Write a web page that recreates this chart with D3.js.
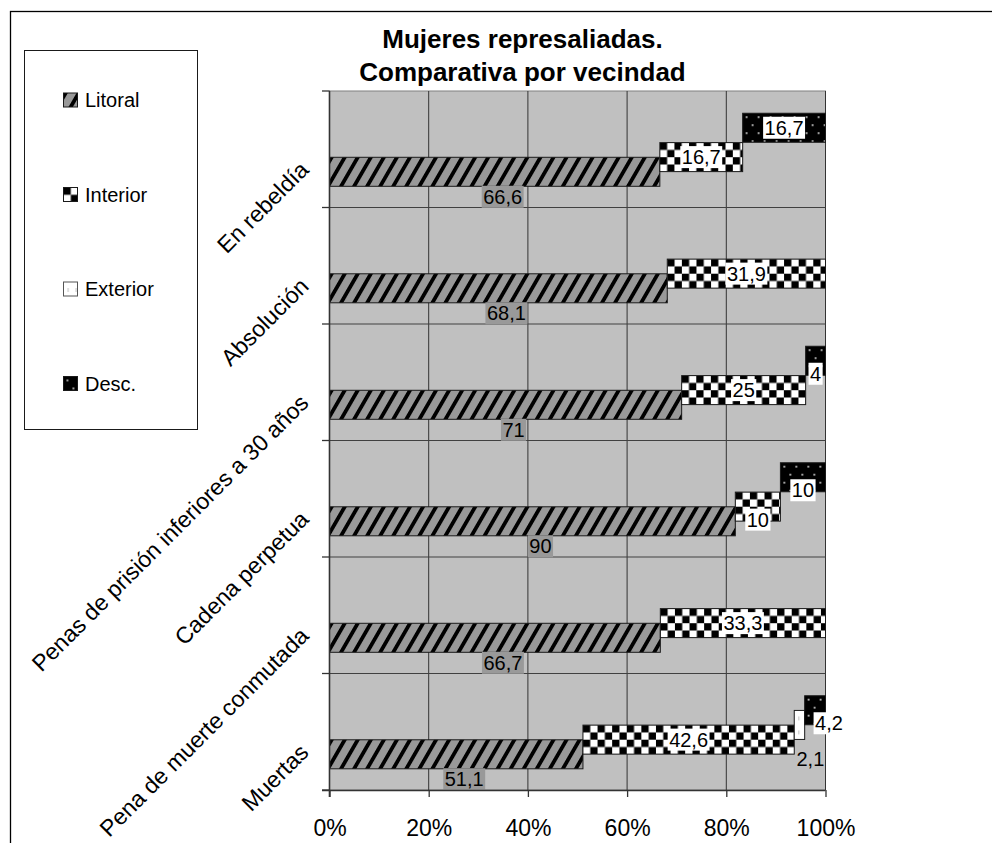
<!DOCTYPE html>
<html>
<head>
<meta charset="utf-8">
<script src="https://cdn.jsdelivr.net/npm/d3@7"></script>
<style>
  html, body { margin: 0; padding: 0; background: #ffffff; }
  svg { display: block; font-family: "Liberation Sans", Arial, sans-serif; }
</style>
</head>
<body>
<svg id="chart" width="992" height="843"></svg>
<script>
// ---- data ----
const categories = ["En rebeldía", "Absolución", "Penas de prisión inferiores a 30 años", "Cadena perpetua", "Pena de muerte conmutada", "Muertas"];
const seriesNames = ["Litoral", "Interior", "Exterior", "Desc."];
const litoral  = [66.6, 68.1, 71, 90, 66.7, 51.1];
const interior = [16.7, 31.9, 25, 10, 33.3, 42.6];
const exterior = [0, 0, 0, 0, 0, 2.1];
const desc     = [16.7, 0, 4, 10, 0, 4.2];
const xTicks   = [0, 0.2, 0.4, 0.6, 0.8, 1];
const titleLines = ["Mujeres represaliadas.", "Comparativa por vecindad"];

const seriesValues = [litoral, interior, exterior, desc];
const patternTypes = ["stripe", "checker", "exterior", "desc"];

// ---- layout ----
const svg = d3.select("#chart");
const defs = svg.append("defs");
const plot = { left: 329.5, right: 825.5, top: 91, bottom: 790 };

const x = d3.scaleLinear().domain([0, 1]).range([plot.left, plot.right]);
const y = d3.scaleBand().domain(categories).range([plot.top, plot.bottom]).paddingInner(0).paddingOuter(0);
const bw = y.bandwidth();
const barH = bw * 0.249;
const firstOff = bw * 0.569;
const step = bw * 0.126;

// pattern factory
let pid = 0;
function makePattern(type, x0, y0) {
  const id = "pat" + (pid++);
  let p;
  if (type === "stripe") {
    const per = 11.3;
    p = defs.append("pattern").attr("id", id).attr("patternUnits", "userSpaceOnUse")
      .attr("width", per).attr("height", 20)
      .attr("patternTransform", `translate(${x0},${y0}) rotate(30)`);
    p.append("rect").attr("width", per).attr("height", 20).attr("fill", "#999999");
    p.append("rect").attr("x", 0).attr("width", 3.8).attr("height", 20).attr("fill", "#000000");
  } else if (type === "checker") {
    const c = 7.3;
    p = defs.append("pattern").attr("id", id).attr("patternUnits", "userSpaceOnUse")
      .attr("width", 2 * c).attr("height", 2 * c)
      .attr("patternTransform", `translate(${x0},${y0})`);
    p.append("rect").attr("width", 2 * c).attr("height", 2 * c).attr("fill", "#ffffff");
    p.append("rect").attr("x", 0).attr("y", 0).attr("width", c).attr("height", c).attr("fill", "#000000");
    p.append("rect").attr("x", c).attr("y", c).attr("width", c).attr("height", c).attr("fill", "#000000");
  } else if (type === "exterior") {
    p = defs.append("pattern").attr("id", id).attr("patternUnits", "userSpaceOnUse")
      .attr("width", 8).attr("height", 14)
      .attr("patternTransform", `translate(${x0},${y0})`);
    p.append("rect").attr("width", 8).attr("height", 14).attr("fill", "#ffffff");
    p.append("rect").attr("x", 4).attr("y", 6).attr("width", 1.2).attr("height", 4).attr("fill", "#c8c8c8");
  } else {
    p = defs.append("pattern").attr("id", id).attr("patternUnits", "userSpaceOnUse")
      .attr("width", 12).attr("height", 16)
      .attr("patternTransform", `translate(${x0},${y0})`);
    p.append("rect").attr("width", 12).attr("height", 16).attr("fill", "#000000");
    p.append("rect").attr("x", 3).attr("y", 3).attr("width", 1.8).attr("height", 1.8).attr("fill", "#c0c0c0");
    p.append("rect").attr("x", 9).attr("y", 11).attr("width", 1.8).attr("height", 1.8).attr("fill", "#c0c0c0");
  }
  return "url(#" + id + ")";
}

// outer border
svg.append("rect").attr("x", 10.5).attr("y", 11.5).attr("width", 1100).attr("height", 1000)
  .attr("fill", "#ffffff").attr("stroke", "#000000").attr("stroke-width", 1.3);

// title
svg.append("g").selectAll("text").data(titleLines).join("text")
  .attr("x", 522.5).attr("y", (d, i) => 48 + i * 32.5)
  .attr("text-anchor", "middle").attr("font-weight", "bold").attr("font-size", 26)
  .attr("fill", "#000").text(d => d);

// plot background
svg.append("rect").attr("x", plot.left).attr("y", plot.top)
  .attr("width", plot.right - plot.left).attr("height", plot.bottom - plot.top)
  .attr("fill", "#c0c0c0").attr("stroke", "#808080").attr("stroke-width", 1);

// gridlines
const grid = svg.append("g");
grid.selectAll("line.v").data(xTicks.slice(1)).join("line").attr("class", "v")
  .attr("x1", d => x(d)).attr("x2", d => x(d)).attr("y1", plot.top).attr("y2", plot.bottom)
  .attr("stroke", "#333").attr("stroke-width", 1);
grid.selectAll("line.h").data(categories.slice(1)).join("line").attr("class", "h")
  .attr("x1", plot.left).attr("x2", plot.right).attr("y1", d => y(d)).attr("y2", d => y(d))
  .attr("stroke", "#404040").attr("stroke-width", 1);

// bars
const fmt = v => String(v).replace(".", ",");
const barsG = svg.append("g");
const labelsG = svg.append("g");
const bars = [];
categories.forEach((cat, ci) => {
  const total = d3.sum(seriesValues, s => s[ci]);
  let cum = 0;
  seriesValues.forEach((s, si) => {
    const v = s[ci];
    const x0 = x(cum / total);
    cum += v;
    const x1 = x(cum / total);
    if (v > 0) {
      bars.push({ cat, ci, si, v, x0, x1, y0: y(cat) + firstOff - si * step });
    }
  });
});
bars.forEach(b => { b.fill = makePattern(patternTypes[b.si], b.x0, b.y0); });

barsG.selectAll("rect").data(bars).join("rect")
  .attr("x", d => d.x0).attr("y", d => d.y0)
  .attr("width", d => d.x1 - d.x0).attr("height", barH)
  .attr("fill", d => d.fill).attr("stroke", "#1a1a1a").attr("stroke-width", 1);

// labels
bars.forEach(b => {
  const g = labelsG.append("g");
  const t = g.append("text").attr("font-size", 20).attr("fill", "#000").attr("text-anchor", "middle").text(fmt(b.v));
  const tw = t.node().getComputedTextLength();
  const w = b.x1 - b.x0;
  const bcx = (b.x0 + b.x1) / 2;
  const bcy = b.y0 + barH / 2;
  let cx, cy, bg;
  if (b.si === 0) {
    cx = bcx + 8; cy = bcy + 25; bg = "#999999";
  } else if (b.si === 2) {
    cx = bcx + tw / 2 - 3; cy = bcy + 34; bg = null;
  } else {
    cx = tw + 2 > w ? bcx + tw / 2 : bcx;
    cy = bcy + (w < 55 ? 13 : 0);
    bg = "#ffffff";
  }
  if (bg) {
    g.insert("rect", "text").attr("x", cx - tw / 2 - 1.5).attr("y", cy - 11)
      .attr("width", tw + 3).attr("height", 22).attr("fill", bg);
  }
  t.attr("x", cx).attr("y", cy + 7.2);
});

// y axis line and ticks
const yAxisG = svg.append("g");
yAxisG.append("line").attr("x1", plot.left).attr("x2", plot.left).attr("y1", plot.top).attr("y2", plot.bottom + 7)
  .attr("stroke", "#333").attr("stroke-width", 1.6);
const yTickPos = categories.map(c => y(c)).concat([plot.bottom]);
yAxisG.selectAll("line.t").data(yTickPos).join("line").attr("class", "t")
  .attr("x1", plot.left - 7.5).attr("x2", plot.left).attr("y1", d => d).attr("y2", d => d)
  .attr("stroke", "#333").attr("stroke-width", 1.3);

// category labels
yAxisG.selectAll("text").data(categories).join("text")
  .attr("text-anchor", "end").attr("font-size", 23).attr("fill", "#000")
  .attr("transform", d => `translate(310,${y(d) + bw / 2 + 22}) rotate(-45)`)
  .text(d => d);

// x axis
const xAxis = d3.axisBottom(x).tickValues(xTicks).tickFormat(d3.format(".0%")).tickSize(7).tickPadding(23);
const xg = svg.append("g").attr("transform", `translate(0,${plot.bottom})`).call(xAxis);
xg.select(".domain").attr("d", `M${plot.left - 7.5},0.5H${plot.right}`).attr("stroke", "#333").attr("stroke-width", 1.3);
xg.selectAll(".tick line").attr("stroke", "#333").attr("stroke-width", 1.3);
xg.selectAll(".tick text").attr("font-size", 23).attr("font-family", "'Liberation Sans', Arial, sans-serif").attr("fill", "#000");

// legend
const lg = svg.append("g");
lg.append("rect").attr("x", 24.5).attr("y", 50.5).attr("width", 173).attr("height", 379)
  .attr("fill", "#ffffff").attr("stroke", "#1a1a1a").attr("stroke-width", 1);
const legendY = d3.scalePoint().domain(seriesNames).range([100, 383.5]);
seriesNames.forEach((name, i) => {
  const cy = legendY(name);
  const fill = makePattern(patternTypes[i], 63.5, cy - 7);
  lg.append("rect").attr("x", 63.5).attr("y", cy - 7).attr("width", 14).attr("height", 14)
    .attr("fill", fill).attr("stroke", i === 2 ? "#555" : "#1a1a1a").attr("stroke-width", 1);
  lg.append("text").attr("x", 85).attr("y", cy + 7.2).attr("font-size", 20).attr("fill", "#000").text(name);
});
</script>
</body>
</html>
